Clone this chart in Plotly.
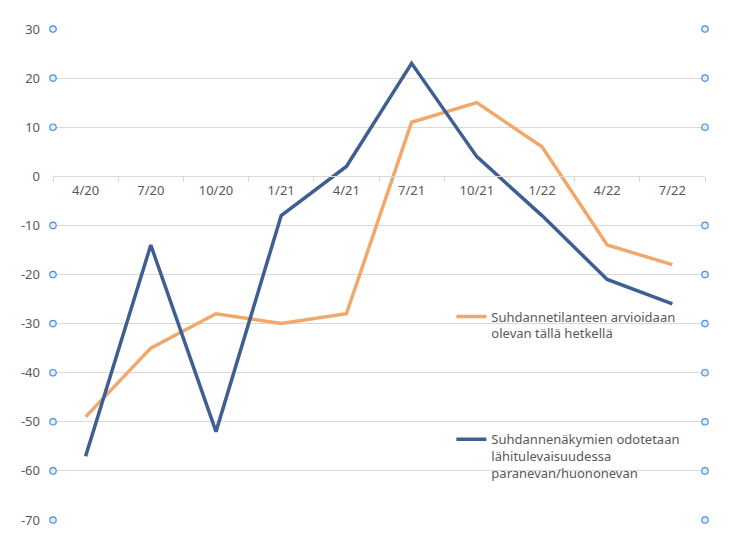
# Purpose: Business cycle outlook survey, current situation vs. near-term expectations

# Imports

import plotly.graph_objects as go

# Globals

quarters = ["4/20", "7/20", "10/20", "1/21", "4/21", "7/21", "10/21", "1/22", "4/22", "7/22"]

current_situation = [-49, -35, -28, -30, -28, 11, 15, 6, -14, -18]
outlook = [-57, -14, -52, -8, 2, 23, 4, -8, -21, -26]

current_name = "Suhdannetilanteen arvioidaan<br>olevan tällä hetkellä"
outlook_name = "Suhdannenäkymien odotetaan<br>lähitulevaisuudessa<br>paranevan/huononevan"

y_ticks = [30, 20, 10, 0, -10, -20, -30, -40, -50, -60, -70]
y_tick_labels = ["30", "20", "10", "0", "-10", "-20", "-30", "-40", "-50", "-60", "-70"]

orange = "#EFA96D"
blue = "#3F5F93"
grid_grey = "#D9D9D9"
text_grey = "#595959"
handle_blue = "#4A8DE0"


def main():

    fig = go.Figure()

    fig.add_trace(go.Scatter(x=quarters, y=current_situation, name=current_name,
                             mode="lines", line=dict(color=orange, width=3.5),
                             legend="legend"))
    fig.add_trace(go.Scatter(x=quarters, y=outlook, name=outlook_name,
                             mode="lines", line=dict(color=blue, width=3.5),
                             legend="legend2"))

    # Category axis crosses the value axis at zero
    y_min, y_max = min(y_ticks), max(y_ticks)
    cross = (0 - y_min) / (y_max - y_min)

    fig.update_xaxes(type="category", range=[-0.5, len(quarters) - 0.5],
                     anchor="free", position=cross,
                     showline=True, linecolor=grid_grey, linewidth=1,
                     ticks="outside", tickson="boundaries", ticklen=5,
                     tickcolor=grid_grey, showgrid=False,
                     tickfont=dict(size=13, color=text_grey), ticklabelstandoff=2)
    fig.update_yaxes(range=[y_min, y_max], tickvals=y_ticks, ticktext=y_tick_labels,
                     showgrid=True, gridcolor=grid_grey, gridwidth=1, zeroline=False,
                     showline=False, ticks="", ticklabelstandoff=12,
                     tickfont=dict(size=13, color=text_grey))

    # Selection handles at both ends of the gridlines (Excel look), in paper
    # coordinates so the top and bottom ones are not clipped
    for tick in y_ticks:
        if tick == 0:
            continue
        frac = (tick - y_min) / (y_max - y_min)
        for side in (0, 1):
            fig.add_shape(type="circle", xref="paper", yref="paper",
                          xsizemode="pixel", ysizemode="pixel",
                          xanchor=side, yanchor=frac,
                          x0=-3.2, x1=3.2, y0=-3.2, y1=3.2,
                          line=dict(color=handle_blue, width=1.2),
                          fillcolor="#E3EEFB")

    # Right edge of the chart frame
    fig.add_shape(type="line", xref="paper", yref="paper", x0=1.05, x1=1.05,
                  y0=-0.05, y1=1.03, line=dict(color="#C8C8C8", width=1))

    legend_style = dict(font=dict(family="Noto Sans", size=13, color=text_grey),
                        bgcolor="rgba(0,0,0,0)", valign="top", itemwidth=30,
                        xanchor="left", yanchor="top")

    # Page body adds an 8px offset, so the figure is a little smaller than the window
    fig.update_layout(
        width=736, height=537,
        margin=dict(l=45, r=39, t=15, b=25),
        paper_bgcolor="white", plot_bgcolor="white",
        font=dict(family="Noto Sans", size=13, color=text_grey),
        showlegend=True,
        legend=dict(x=0.611, y=0.445, **legend_style),
        legend2=dict(x=0.611, y=0.195, **legend_style),
    )

    fig.write_html("out.html")


if "__main__" == __name__:
    main()
